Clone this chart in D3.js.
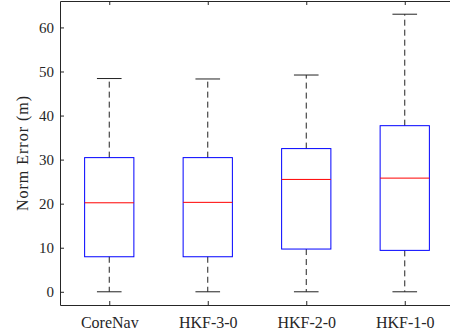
<!DOCTYPE html>
<html>
<head>
<meta charset="utf-8">
<script src="https://cdn.jsdelivr.net/npm/d3@7"></script>
<style>
  body { margin: 0; background: #fff; }
  svg text { font-family: 'Liberation Serif', 'Times New Roman', serif !important; fill: #262626; }
</style>
</head>
<body>
<svg id="chart" width="450" height="334"></svg>
<script>
// box plot data
const categories = ['CoreNav', 'HKF-3-0', 'HKF-2-0', 'HKF-1-0'];
const lowerWhisker = [0, 0, 0, 0];
const q1 = [7.95, 7.95, 9.7, 9.4];
const median = [20.2, 20.3, 25.5, 25.8];
const q3 = [30.45, 30.45, 32.5, 37.7];
const upperWhisker = [48.4, 48.3, 49.2, 63.0];
const yTicks = [0, 10, 20, 30, 40, 50, 60];

const boxes = categories.map((c, i) => ({
  name: c, lo: lowerWhisker[i], q1: q1[i], med: median[i], q3: q3[i], hi: upperWhisker[i]
}));

const plotL = 60, plotR = 454, plotT = 1, plotB = 305;
const serif = 'Liberation Serif, serif';

const x = d3.scalePoint().domain(categories).range([plotL, plotR]).padding(0.5);
const y = d3.scaleLinear().domain([-3, 66]).range([plotB, plotT]);

const boxW = x.step() / 2;
const capW = boxW / 2;

const svg = d3.select('#chart');

// boxes
const g = svg.append('g');
const b = g.selectAll('g.box').data(boxes).enter().append('g');

// whiskers (dashed)
b.append('line')
  .attr('x1', d => x(d.name)).attr('x2', d => x(d.name))
  .attr('y1', d => y(d.q3)).attr('y2', d => y(d.hi))
  .attr('stroke', '#222').attr('stroke-dasharray', '6,4');
b.append('line')
  .attr('x1', d => x(d.name)).attr('x2', d => x(d.name))
  .attr('y1', d => y(d.q1)).attr('y2', d => y(d.lo))
  .attr('stroke', '#222').attr('stroke-dasharray', '6,4');

// caps
b.append('line')
  .attr('x1', d => x(d.name) - capW / 2).attr('x2', d => x(d.name) + capW / 2)
  .attr('y1', d => y(d.hi)).attr('y2', d => y(d.hi))
  .attr('stroke', '#222');
b.append('line')
  .attr('x1', d => x(d.name) - capW / 2).attr('x2', d => x(d.name) + capW / 2)
  .attr('y1', d => y(d.lo)).attr('y2', d => y(d.lo))
  .attr('stroke', '#222');

// box
b.append('rect')
  .attr('x', d => x(d.name) - boxW / 2)
  .attr('width', boxW)
  .attr('y', d => y(d.q3))
  .attr('height', d => y(d.q1) - y(d.q3))
  .attr('fill', 'none').attr('stroke', '#0000ff');

// median
b.append('line')
  .attr('x1', d => x(d.name) - boxW / 2).attr('x2', d => x(d.name) + boxW / 2)
  .attr('y1', d => y(d.med)).attr('y2', d => y(d.med))
  .attr('stroke', '#ff0000');

// axes
svg.append('g')
  .attr('transform', `translate(${plotL},0)`)
  .call(d3.axisLeft(y).tickValues(yTicks).tickSizeInner(-4).tickSizeOuter(0).tickPadding(6))
  .attr('font-family', serif).attr('font-size', 15);

svg.append('g')
  .attr('transform', `translate(${plotR},0)`)
  .call(d3.axisRight(y).tickValues(yTicks).tickSizeInner(-4).tickSizeOuter(0).tickFormat(''));

svg.append('g')
  .attr('transform', `translate(0,${plotB})`)
  .call(d3.axisBottom(x).tickSizeInner(-4).tickSizeOuter(0).tickPadding(12))
  .attr('font-family', serif).attr('font-size', 16);

svg.append('g')
  .attr('transform', `translate(0,${plotT})`)
  .call(d3.axisTop(x).tickSizeInner(-4).tickSizeOuter(0).tickFormat(''));

svg.selectAll('.domain, .tick line').attr('stroke', '#262626');
svg.selectAll('.tick text').attr('fill', '#262626');

// y label
svg.append('text')
  .attr('transform', `translate(28,${(plotT + plotB) / 2}) rotate(-90)`)
  .attr('text-anchor', 'middle')
  .attr('font-family', serif)
  .attr('font-size', 16)
  .style('letter-spacing', '1px')
  .text('Norm Error (m)');
</script>
</body>
</html>
